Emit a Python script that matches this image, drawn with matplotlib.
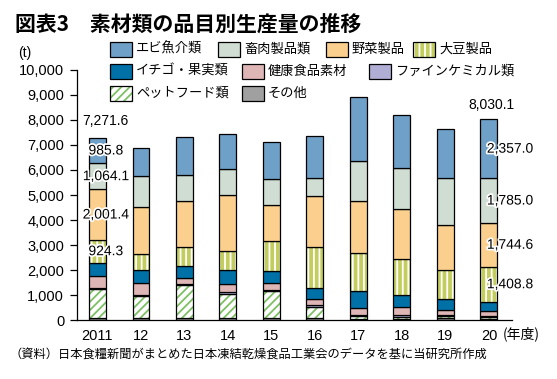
import matplotlib
matplotlib.use("Agg")
import matplotlib.pyplot as plt
import matplotlib.patheffects as pe
from matplotlib.patches import Rectangle
from matplotlib.ticker import FuncFormatter
import numpy as np

# data (t)
years = ["2011", "12", "13", "14", "15", "16", "17", "18", "19", "20"]
sonota = [80, 80, 80, 80, 80, 80, 40, 40, 100, 50]
pet = [1170, 905, 1332, 960, 1080, 440, 130, 80, 60, 70]
fine = [30, 40, 30, 80, 40, 92, 40, 105, 60, 60]
kenko = [490, 467, 238, 332, 280, 228, 295, 295, 180, 190]
ichigo = [526, 508, 492, 548, 480, 440, 655, 480, 440, 364.7]
daizu = [924.3, 652, 748, 785, 1200, 1640, 1520, 1465, 1160, 1408.8]
yasai = [2001.4, 1868, 1840, 2215, 1440, 2040, 2080, 1975, 1800, 1744.6]
chikuniku = [1064.1, 1240, 1040, 1040, 1040, 720, 1600, 1640, 1880, 1785.0]
ebi = [985.8, 1120, 1520, 1410, 1480, 1680, 2550, 2130, 1960, 2357.0]

# stacking order, bottom to top: (name, values, face, hatch, hatch colour)
series = [
    ("その他", sonota, "#a0a0a0", None, None),
    ("ペットフード類", pet, "white", "////", "#7dc063"),
    ("ファインケミカル類", fine, "#b1aed5", None, None),
    ("健康食品素材", kenko, "#dfb6b6", None, None),
    ("イチゴ・果実類", ichigo, "#0071a7", None, None),
    ("大豆製品", daizu, "#c3cd5e", "|||", "white"),
    ("野菜製品", yasai, "#fbd08e", None, None),
    ("畜肉製品類", chikuniku, "#d0ddd2", None, None),
    ("エビ魚介類", ebi, "#6fa0c8", None, None),
]

JP = ["Noto Sans CJK JP"]
plt.rcParams["font.family"] = ["Liberation Sans", "Noto Sans CJK JP"]
plt.rcParams["hatch.linewidth"] = 1.3

W, H = 557, 379
fig = plt.figure(figsize=(W / 100, H / 100), dpi=100)


def fx(px):
    return px / W


def fy(py):
    return 1 - py / H


ax = fig.add_axes([fx(76.7), fy(320.3), fx(512 - 76.7), (320.3 - 69.8) / H])

x = np.arange(len(years))
bw = 0.39
bottom = np.zeros(len(years))
for name, vals, face, hatch, hcol in series:
    vals = np.array(vals, dtype=float)
    if hatch:
        ax.bar(x, vals, bw, bottom=bottom, color=face, edgecolor=hcol,
               hatch=hatch, linewidth=0)
        ax.bar(x, vals, bw, bottom=bottom, fill=False, edgecolor="black",
               linewidth=0.9)
    else:
        ax.bar(x, vals, bw, bottom=bottom, color=face, edgecolor="black",
               linewidth=0.9)
    bottom += vals

ax.set_xlim(-0.478, 9.53)
ax.set_ylim(0, 10000)
ax.set_yticks(np.arange(0, 10001, 1000))
ax.yaxis.set_major_formatter(FuncFormatter(lambda v, p: f"{v:,.0f}"))
ax.set_xticks(x)
ax.set_xticklabels(years)
ax.tick_params(axis="y", length=5, width=0.9, pad=4, labelsize=10.5)
ax.tick_params(axis="x", length=0, pad=6, labelsize=10.5)
for s in ["top", "right"]:
    ax.spines[s].set_visible(False)
for s in ["left", "bottom"]:
    ax.spines[s].set_linewidth(0.9)

# value labels for first and last year
stroke = [pe.withStroke(linewidth=2.5, foreground="white")]
label_names = ["大豆製品", "野菜製品", "畜肉製品類", "エビ魚介類"]
for i, dx, ha, dy in [(0, 6, "center", 12), (len(years) - 1, -1.5, "left", 10)]:
    base = 0.0
    for name, vals, *_ in series:
        v = vals[i]
        if name in label_names:
            ax.annotate(f"{v:,.1f}", (x[i], base + v / 2), xytext=(dx, 0),
                        textcoords="offset points", ha=ha, va="center",
                        fontsize=10, path_effects=stroke)
        base += v
    tx = 6 if i == 0 else 2
    ax.annotate(f"{base:,.1f}", (x[i], base), xytext=(tx, dy),
                textcoords="offset points", ha="center", va="center",
                fontsize=10)

# legend, laid out like the original
legend_pos = {
    "エビ魚介類": (110, 49), "畜肉製品類": (218, 49), "野菜製品": (326, 49),
    "大豆製品": (413, 49), "イチゴ・果実類": (110, 71), "健康食品素材": (242, 71),
    "ファインケミカル類": (369, 71), "ペットフード類": (110, 93), "その他": (242, 93),
}
for name, vals, face, hatch, hcol in series:
    px, py = legend_pos[name]
    if hatch:
        fig.patches.append(Rectangle((fx(px), fy(py + 7.5)), fx(22), 15 / H,
                                     transform=fig.transFigure, facecolor=face,
                                     edgecolor=hcol, hatch=hatch, linewidth=0))
        fig.patches.append(Rectangle((fx(px), fy(py + 7.5)), fx(22), 15 / H,
                                     transform=fig.transFigure, fill=False,
                                     edgecolor="black", linewidth=0.9))
    else:
        fig.patches.append(Rectangle((fx(px), fy(py + 7.5)), fx(22), 15 / H,
                                     transform=fig.transFigure, facecolor=face,
                                     edgecolor="black", linewidth=0.9))
    fig.text(fx(px + 26), fy(py), name, family=JP, fontsize=9.5,
             ha="left", va="center")

fig.text(fx(15), fy(24), "図表3　素材類の品目別生産量の推移", family=JP,
         fontsize=15, fontweight="bold", ha="left", va="center")
fig.text(fx(25), fy(53), "(t)", fontsize=10, ha="center", va="center")
fig.text(fx(503), fy(334), "(年度)", family=JP, fontsize=10,
         ha="left", va="center")
fig.text(fx(10), fy(355),
         "（資料）日本食糧新聞がまとめた日本凍結乾燥食品工業会のデータを基に当研究所作成",
         family=JP, fontsize=8.8, ha="left", va="center")

fig.savefig("out.png", dpi=100)
